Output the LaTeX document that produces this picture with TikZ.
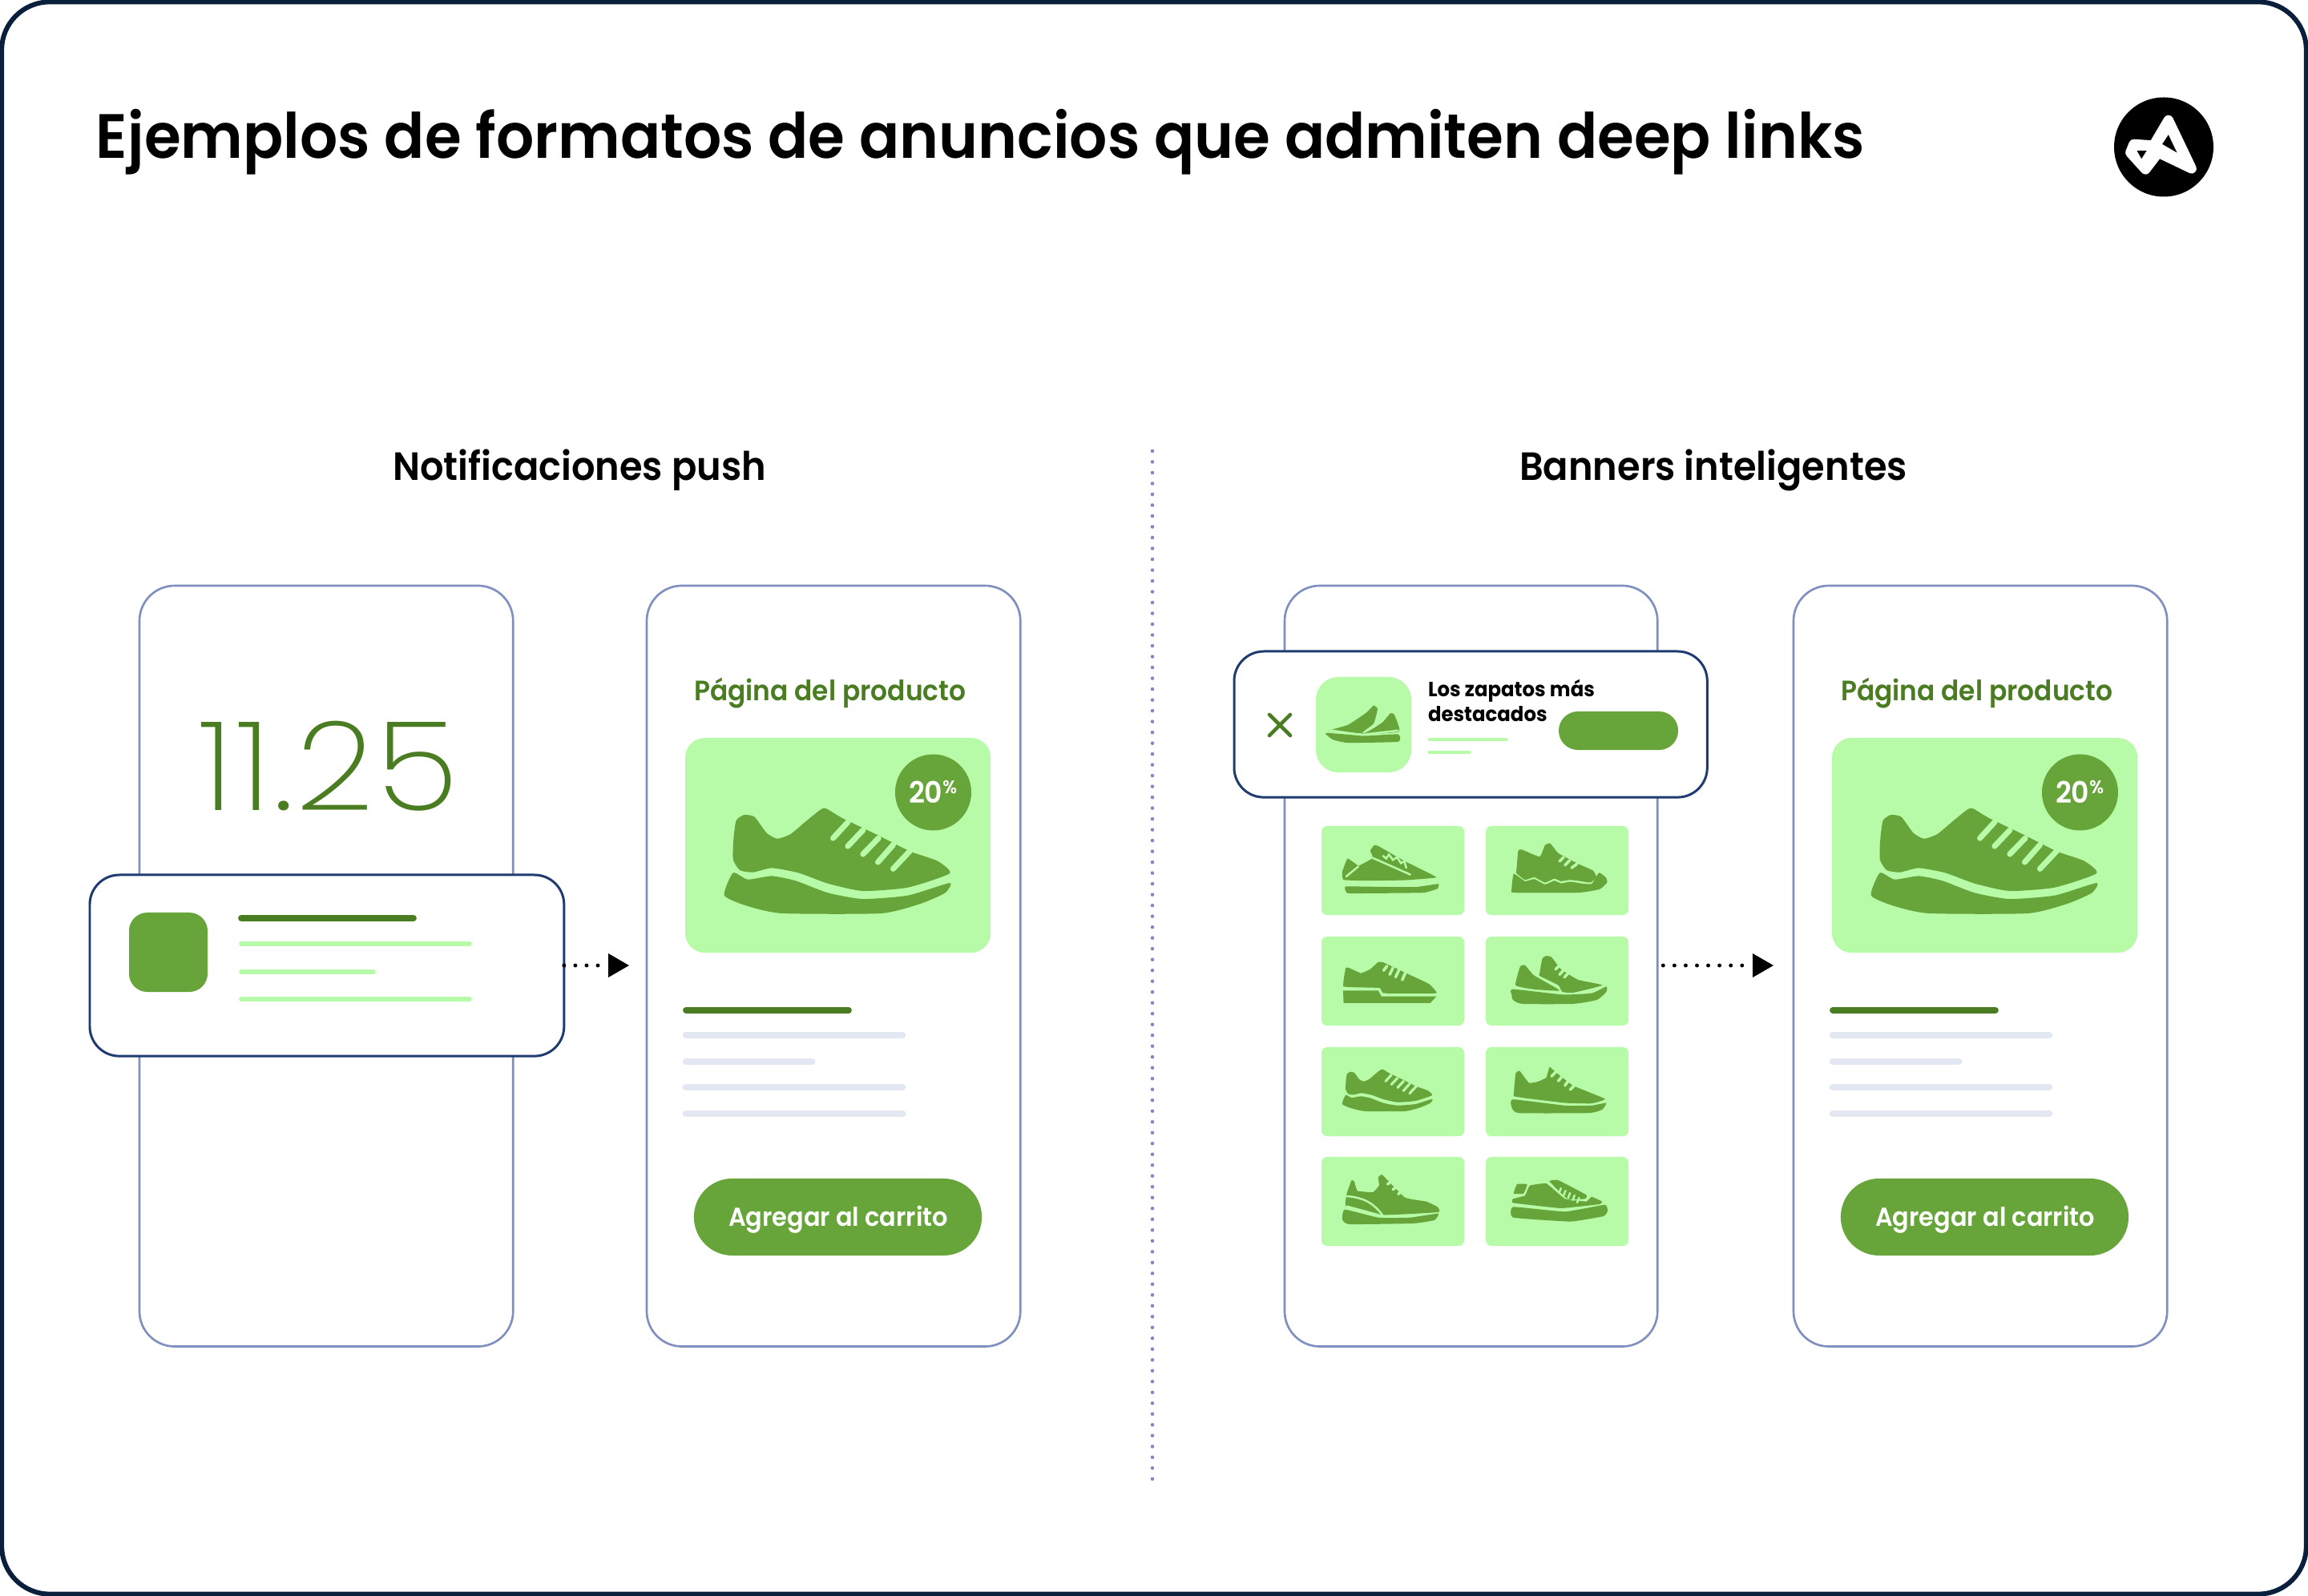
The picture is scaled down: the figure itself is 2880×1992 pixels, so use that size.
\documentclass[tikz,border=0pt]{standalone}
\usepackage{fontspec}
\setmainfont{Poppins}
\newfontfamily\lightfont[FakeStretch=1.1,LetterSpace=2]{Poppins ExtraLight}
\newfontfamily\titlefont[FakeStretch=0.95]{Poppins SemiBold}
\newfontfamily\medfont[FakeStretch=0.94]{Poppins SemiBold}
\newfontfamily\tinyfont[FakeStretch=0.95]{Poppins}
\definecolor{navy}{HTML}{0A1F3C}
\definecolor{cardline}{HTML}{1F3B70}
\definecolor{phoneline}{HTML}{7F8FBF}
\definecolor{midgreen}{HTML}{67A53B}
\definecolor{darkgreen}{HTML}{4A7D22}
\definecolor{lightgreen}{HTML}{B7FBA8}
\definecolor{greyline}{HTML}{E3E7F2}
\definecolor{divline}{HTML}{7F8AC4}
\tikzset{
  x=0.01cm,y=-0.01cm,
  every node/.style={outer sep=0pt},
  phone/.style={draw=phoneline,line width=0.75pt,fill=white,rounded corners=12.5pt},
  card/.style={draw=cardline,line width=0.85pt,fill=white,rounded corners=10.5pt},
  panel/.style={fill=lightgreen,rounded corners=2pt},
  lightbar/.style={draw=lightgreen,line width=1.6pt,line cap=round},
  darkbar/.style={draw=darkgreen,line width=2.2pt,line cap=round},
  greybar/.style={draw=greyline,line width=2.5pt,line cap=round},
  dotline/.style={black,line width=1.4pt,line cap=round,dash pattern=on 0pt off 4pt},
  lace/.style={draw=lightgreen,line width=#1,line cap=round},
  lace/.default=0.7pt,
  zoomat/.style 2 args={shift={({#1*0.01cm},{-#2*0.01cm})},x=0.003333cm,y=-0.003333cm},
  headtext/.style={font=\medfont\fontsize{14pt}{18pt}\selectfont,text=black,inner sep=0pt,anchor=base},
  producttitle/.style={font=\medfont\fontsize{9.95pt}{12pt}\selectfont,text=darkgreen,inner sep=0pt,anchor=base west},
  btntext/.style={font=\medfont\fontsize{9.2pt}{12pt}\selectfont,text=white,inner sep=0pt,anchor=base},
}
% main shoe, drawn in zoom coordinates
\newcommand{\mainshoe}[1]{%
  \fill[midgreen] plot[smooth cycle,tension=.35] coordinates {(345,1060)(346,990)(356,915)(385,893)(425,900)(470,960)(510,982)(560,965)(620,915)(670,875)(692,868)(755,905)(880,965)(1010,1030)(1110,1065)(1157,1112)(1000,1165)(830,1178)(700,1150)(590,1110)(490,1092)(420,1108)(370,1100)};
  \fill[midgreen] plot[smooth cycle,tension=.35] coordinates {(345,1110)(400,1135)(490,1122)(580,1140)(700,1185)(830,1208)(1000,1195)(1157,1148)(1140,1185)(1050,1225)(900,1262)(530,1262)(400,1235)(312,1195)};
  \foreach \a/\b/\c/\d in {720/980/775/920,775/1010/832/950,832/1040/890/980,888/1070/945/1005,945/1095/1008/1028}
    \draw[draw=lightgreen,line width=#1,line cap=round] (\a,\b) -- (\c,\d);
}
% product phone content, at a horizontal offset
\newcommand{\productphone}[2]{%
  \begin{scope}[shift={({#1*0.01cm},0)}]
    \node[phone,minimum width=4.66cm,minimum height=9.49cm,anchor=north west] (#2phone) at (807,731) {};
    \node[producttitle] (#2title) at (866,875) {Página del producto};
    \node[panel,rounded corners=7pt,minimum width=3.81cm,minimum height=2.68cm,anchor=north west,inner sep=0pt] (#2panel) at (855,921) {};
    \begin{scope}[zoomat={800}{720}] \mainshoe{2pt} \end{scope}
    \node[circle,fill=midgreen,minimum size=0.95cm,inner sep=0pt] (#2badge) at (1164.5,989) {};
    \node[font=\medfont\fontsize{10.5pt}{12pt}\selectfont,text=white,inner sep=0pt,anchor=base west] (#2pct) at (1134,1003) {20\raisebox{3.6pt}{\fontsize{6.5pt}{7pt}\selectfont\%}};
    \draw[darkbar] (856,1261) -- (1059,1261);
    \draw[greybar] (856,1292) -- (1126,1292);
    \draw[greybar] (856,1325) -- (1013,1325);
    \draw[greybar] (856,1357) -- (1126,1357);
    \draw[greybar] (856,1390) -- (1126,1390);
    \node[fill=midgreen,rounded corners=13.6pt,minimum width=3.59cm,minimum height=0.96cm,inner sep=0pt] (#2btn) at (1045.5,1519) {};
    \node[btntext] (#2btntext) at (1046,1531) {Agregar al carrito};
  \end{scope}
}
\begin{document}
\begin{tikzpicture}
\useasboundingbox (0,0) rectangle (2880,1992);
\fill[white] (0,0) rectangle (2880,1992);
\node[draw=navy,line width=1.7pt,rounded corners=17pt,minimum width=28.74cm,minimum height=19.86cm,inner sep=0pt,fill=white] (frame) at (1440,996) {};
\node[font=\titlefont\fontsize{22.2pt}{26pt}\selectfont,text=black,inner sep=0pt,anchor=base west] (maintitle) at (120,198) {Ejemplos de formatos de anuncios que admiten deep links};
% logo
\fill[black] (2700,183.5) circle[radius=62];
\begin{scope}[zoomat={2600}{100}]
  \filldraw[white,line width=3.5pt,line join=round] (318,150) -- (405,332) -- (280,272) -- (232,335) -- (175,272) -- (188,240) -- (262,245) -- cycle;
  \fill[black] (318,205) -- (350,272) -- (295,240) -- cycle;
  \fill[black] (200,265) -- (236,265) -- (217,295) -- cycle;
\end{scope}
% headings
\node[headtext] (headA) at (723,600) {Notificaciones push};
\node[headtext] (headB) at (2138,600) {Banners inteligentes};
% divider
\coordinate (divtop) at (1438,563);
\coordinate (divbot) at (1438,1851);
\draw[divline,line width=1.3pt,line cap=round,dash pattern=on 0pt off 3.84pt] (divtop) -- (divbot);
% phone 1
\node[phone,minimum width=4.66cm,minimum height=9.49cm,anchor=north west] (phoneA) at (174,731) {};
\node[font=\lightfont\fontsize{44pt}{50pt}\selectfont,text=darkgreen,inner sep=0pt,anchor=base] (clock) at (410,1012) {11.25};
% notification card
\node[card,minimum width=5.915cm,minimum height=2.26cm,anchor=north west,inner sep=0pt] (notif) at (112,1092) {};
\node[fill=midgreen,rounded corners=6.5pt,minimum width=0.98cm,minimum height=0.99cm,inner sep=0pt,anchor=north west] (notifsq) at (161,1139) {};
\draw[darkbar] (301,1146) -- (516,1146);
\draw[lightbar] (301,1178) -- (586,1178);
\draw[lightbar] (301,1213) -- (466,1213);
\draw[lightbar] (301,1247) -- (586,1247);
% arrow 1
\coordinate (phoneBin) at (785,1205);
\draw[dotline] (notif.east |- phoneBin) -- (757,1205);
\fill[black] (785,1205) -- (759,1190) -- (759,1220) -- cycle;
% phone 2 and product
\productphone{0}{p}
% phone 3
\node[phone,minimum width=4.65cm,minimum height=9.49cm,anchor=north west] (phoneC) at (1603,731) {};
% grid
\foreach \xx/\yy/\nn in {1649/1031/a,1854/1031/b,1649/1169/c,1854/1169/d,1649/1307/e,1854/1307/f,1649/1444/g,1854/1444/h}
  \node[panel,minimum width=1.78cm,minimum height=1.11cm,inner sep=0pt,anchor=north west] (grid\nn) at (\xx,\yy) {};
% shoes row 1-2
\begin{scope}[zoomat={1620}{1020}]
  % A
  \fill[midgreen] plot[smooth cycle,tension=.2] coordinates {(170,235)(165,205)(185,155)(225,182)(235,178)(280,153)(270,125)(285,105)(300,108)(390,160)(460,195)(518,226)(400,236)(260,238)};
  \fill[midgreen] plot[smooth cycle,tension=.2] coordinates {(177,260)(300,261)(440,262)(525,250)(522,268)(470,283)(300,285)(185,285)};
  \draw[lace] (180,222) -- (225,185);
  \draw[lace] (280,153) -- (420,215);
  \draw[lace] (318,145) -- (330,155) -- (340,140) -- (355,160) -- (370,150) -- (385,172) -- (398,165) -- (405,190);
  % B
  \fill[midgreen] plot[smooth cycle,tension=.25] coordinates {(818,200)(825,125)(840,122)(905,148)(925,105)(945,98)(975,135)(1050,175)(1105,200)(1118,225)(1095,245)(1060,240)(1020,235)(985,240)(960,230)(925,245)(885,225)(850,235)(818,210)};
  \fill[midgreen] plot[smooth cycle,tension=.25] coordinates {(808,212)(850,240)(885,232)(925,252)(960,238)(985,248)(1020,242)(1060,248)(1100,250)(1128,208)(1155,228)(1158,245)(1130,270)(1050,283)(810,283)(800,270)};
  \draw[lace=1pt] (980,165) -- (995,150);
  \draw[lace=1pt] (1000,180) -- (1018,162);
  \draw[lace=1pt] (1025,190) -- (1045,175);
  % C
  \fill[midgreen] plot[smooth cycle,tension=.15] coordinates {(170,635)(178,565)(190,565)(235,585)(270,570)(300,543)(320,545)(420,592)(490,625)(518,660)(320,660)(305,640)};
  \fill[midgreen] (168,650) -- (300,650) -- (312,672) -- (518,672) -- (495,697) -- (170,697) -- cycle;
  \draw[lace=1pt] (320,575) -- (333,558);
  \draw[lace=1pt] (343,590) -- (355,565);
  \draw[lace=1pt] (365,600) -- (378,572);
  \draw[lace=1pt] (390,610) -- (403,580);
  % D
  \fill[midgreen] plot[smooth cycle,tension=.25] coordinates {(815,630)(832,560)(850,555)(880,590)(895,600)(980,650)(880,645)};
  \fill[midgreen] plot[smooth cycle,tension=.25] coordinates {(905,585)(915,530)(930,520)(950,525)(985,570)(1050,610)(1140,630)(1030,658)(990,655)(975,630)(905,595)};
  \fill[midgreen] plot[smooth cycle,tension=.3] coordinates {(805,645)(990,665)(1100,660)(1155,635)(1155,655)(1120,685)(1030,700)(840,700)(805,685)(800,665)};
  \draw[lace=1pt] (965,570) -- (980,555);
  \draw[lace=1pt] (980,590) -- (998,570);
  \draw[lace=1pt] (998,600) -- (1012,585);
\end{scope}
% shoes row 3-4
\begin{scope}[zoomat={1620}{1300}]
  % F
  \fill[midgreen] plot[smooth cycle,tension=.2] coordinates {(808,195)(815,120)(830,110)(865,155)(900,150)(930,135)(942,95)(960,110)(1030,165)(1150,215)(1100,232)(1000,230)(850,212)(808,205)};
  \fill[midgreen] plot[smooth cycle,tension=.25] coordinates {(805,217)(1000,240)(1100,240)(1155,230)(1140,255)(1090,268)(825,268)(800,245)};
  \draw[lace=1pt] (950,130) -- (965,115);
  \draw[lace=1pt] (975,148) -- (990,130);
  \draw[lace=1pt] (1000,165) -- (1012,148);
  \draw[lace=1pt] (1020,180) -- (1035,165);
  % G
  \fill[midgreen] plot[smooth cycle,tension=.2] coordinates {(182,570)(200,520)(210,525)(222,560)(280,565)(303,540)(300,510)(315,500)(400,585)(480,600)(522,620)(525,640)(320,650)(180,620)};
  \fill[midgreen] plot[smooth cycle,tension=.25] coordinates {(175,630)(300,660)(420,660)(525,645)(510,670)(430,682)(190,685)(165,665)};
  \draw[lace] (182,580) .. controls (250,585) and (285,610) .. (315,650);
  \draw[lace] (182,618) -- (300,650);
  \draw[lace=1pt] (335,535) -- (348,525);
  \draw[lace=1pt] (355,555) -- (368,545);
  \draw[lace=1pt] (375,572) -- (388,562);
  % H
  \fill[midgreen] plot[smooth cycle,tension=.2] coordinates {(820,535)(858,535)(845,570)(808,570)};
  \fill[midgreen] plot[smooth cycle,tension=.15] coordinates {(805,590)(850,578)(868,540)(930,532)(1000,590)(1080,600)(1100,582)(1140,600)(1130,610)(985,625)(805,605)};
  \fill[midgreen] plot[smooth cycle,tension=.2] coordinates {(942,524)(975,520)(1080,575)(1075,590)(1010,590)};
  \fill[midgreen] plot[smooth cycle,tension=.2] coordinates {(805,620)(1000,638)(1150,612)(1160,635)(1145,655)(1020,675)(805,660)};
  \foreach \q in {0,1,2,3,4} \draw[lace] ({985+\q*17},{550+\q*9}) -- ({978+\q*17},{568+\q*9});
\end{scope}
% shoe E is the main shoe, scaled
\begin{scope}[shift={({1633.4*0.01cm},{-1219.3*0.01cm})},x=0.001333cm,y=-0.001333cm]
  \mainshoe{0.9pt}
\end{scope}
% banner
\node[card,minimum width=5.9cm,minimum height=1.82cm,anchor=north west,inner sep=0pt] (banner) at (1540,813) {};
\draw[darkgreen,line width=1.3pt,line cap=round] (1584,892) -- (1610,918);
\draw[darkgreen,line width=1.3pt,line cap=round] (1610,892) -- (1584,918);
\node[panel,rounded corners=8pt,minimum width=1.19cm,minimum height=1.19cm,inner sep=0pt,anchor=north west] (bannersq) at (1642,845) {};
% small shoe, mirrored
\begin{scope}[shift={({1517*0.01cm},{-790*0.01cm})},x=0.004115cm,y=-0.003333cm]
  \fill[midgreen] plot[smooth cycle,tension=.25] coordinates {(555,370)(540,305)(528,302)(505,335)(450,375)(340,368)(400,345)(455,300)(478,272)(490,285)(478,340)(440,380)};
  \fill[midgreen] plot[smooth cycle,tension=.25] coordinates {(333,375)(450,386)(552,380)(552,408)(400,412)(355,400)};
  \draw[lace] (330,362) -- (440,382) -- (552,366);
\end{scope}
\node[font=\tinyfont\bfseries\fontsize{7.3pt}{8.9pt}\selectfont,text=black,inner sep=0pt,anchor=base west,align=left] (bannertext) at (1782,901) {Los zapatos más\\destacados};
\draw[draw=lightgreen,line width=1.4pt,line cap=round] (1784,923) -- (1879,923);
\draw[draw=lightgreen,line width=1.4pt,line cap=round] (1784,939) -- (1833,939);
\node[fill=midgreen,rounded corners=6.8pt,minimum width=1.49cm,minimum height=0.48cm,inner sep=0pt,anchor=north west] (bannerbtn) at (1945,888) {};
% arrow 2
\coordinate (phoneDin) at (2213,1205);
\draw[dotline,shorten <=2pt] (phoneC.east |- phoneDin) -- (2182,1205);
\fill[black] (2213,1205) -- (2187,1190) -- (2187,1220) -- cycle;
% phone 4 and product
\productphone{1431}{q}
\end{tikzpicture}
\end{document}
